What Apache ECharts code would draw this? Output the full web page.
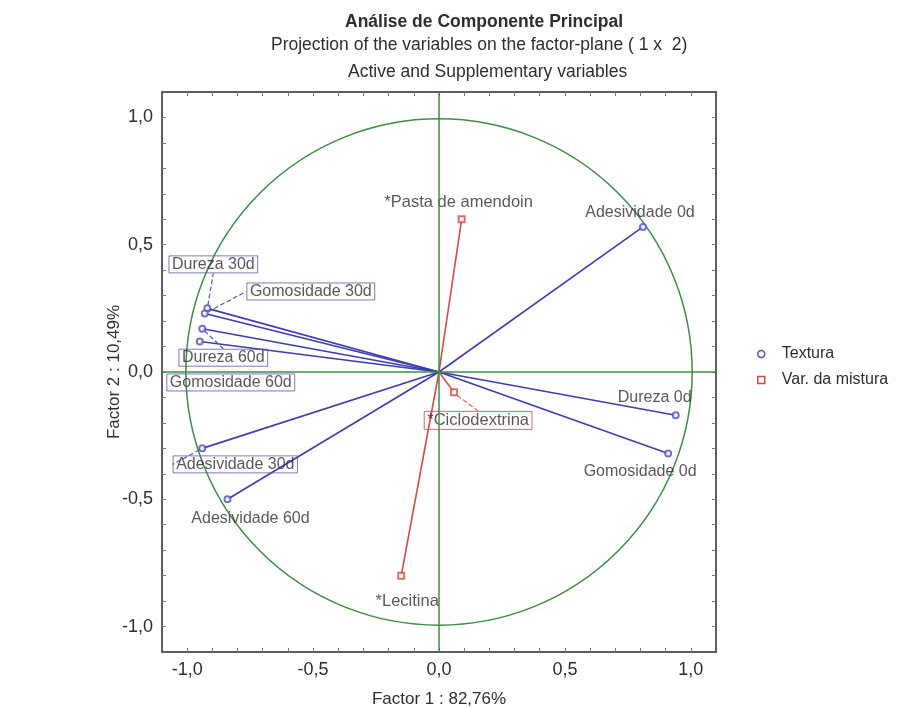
<!DOCTYPE html>
<html>
<head>
<meta charset="utf-8">
<script src="https://cdn.jsdelivr.net/npm/echarts@6/dist/echarts.min.js"></script>
<style>
  html, body { margin: 0; padding: 0; background: #fff; }
  #chart { width: 909px; height: 708px; }
</style>
</head>
<body>
<div id="chart"></div>
<script>
// active variables (Textura)
var texturaNames = ['Adesividade 0d', 'Dureza 0d', 'Gomosidade 0d', 'Dureza 30d', 'Gomosidade 30d',
  'Dureza 60d', 'Gomosidade 60d', 'Adesividade 30d', 'Adesividade 60d'];
var texturaX = [0.81, 0.94, 0.91, -0.92, -0.93, -0.94, -0.95, -0.94, -0.84];
var texturaY = [0.57, -0.17, -0.32, 0.25, 0.23, 0.17, 0.12, -0.30, -0.50];

// supplementary variables (Var. da mistura)
var misturaNames = ['*Pasta de amendoin', '*Ciclodextrina', '*Lecitina'];
var misturaX = [0.09, 0.06, -0.15];
var misturaY = [0.60, -0.08, -0.80];

var circleRadius = [1];
var tickLabels = [-1, -0.5, 0, 0.5, 1];
var tickValues = [-1, -0.9, -0.8, -0.7, -0.6, -0.5, -0.4, -0.3, -0.2, -0.1, 0,
  0.1, 0.2, 0.3, 0.4, 0.5, 0.6, 0.7, 0.8, 0.9, 1];

// label placement (pixel offset from the point), boxes and leader lines
var labelPlace = {
  'Adesividade 0d': { dx: -3, dy: -14 },
  'Dureza 0d': { dx: -21, dy: -18 },
  'Gomosidade 0d': { dx: -28, dy: 18 },
  'Dureza 30d': { dx: 6, dy: -44, box: true, lead: true },
  'Gomosidade 30d': { dx: 106, dy: -22, box: true, lead: true },
  'Dureza 60d': { dx: 21, dy: 29, box: true, lead: true },
  'Gomosidade 60d': { dx: 31, dy: 41, box: true },
  'Adesividade 30d': { dx: 33, dy: 16, box: true, lead: true },
  'Adesividade 60d': { dx: 23, dy: 19 },
  '*Pasta de amendoin': { dx: -3, dy: -17 },
  '*Ciclodextrina': { dx: 24, dy: 28, box: true, lead: true },
  '*Lecitina': { dx: 6, dy: 26 }
};

var font = 'Liberation Sans, Arial, sans-serif';
var blue = '#3d3db0';
var red = '#d24a4a';
var green = '#3f8c44';
var ink = '#2e2e2e';

function points(names, xs, ys, boxColor) {
  return names.map(function (n, i) {
    var p = labelPlace[n] || {};
    return {
      name: n,
      value: [xs[i], ys[i]],
      label: p.box ? { borderColor: boxColor, borderWidth: 1, padding: [1, 3, 0, 3] } : {},
      labelLine: { show: !!p.lead }
    };
  });
}

function vectorItem(color) {
  return function (params, api) {
    var o = api.coord([0, 0]);
    var p = api.coord([api.value(0), api.value(1)]);
    return {
      type: 'line',
      shape: { x1: o[0], y1: o[1], x2: p[0], y2: p[1] },
      style: { stroke: color, lineWidth: 1.6 }
    };
  };
}

function layoutFor(names) {
  return function (params) {
    var p = labelPlace[names[params.dataIndex]] || { dx: 0, dy: 0 };
    return { dx: p.dx, dy: p.dy };
  };
}

var fmt = function (v) { return v.toFixed(1).replace('.', ','); };

function axis(pos, withLabel, name, nameGap) {
  return {
    type: 'value', min: -1.1, max: 1.1, position: pos,
    axisLine: { onZero: false, lineStyle: { color: '#555', width: 1.5 } },
    axisTick: { inside: true, length: 4, customValues: tickValues, lineStyle: { color: '#777' } },
    axisLabel: {
      show: withLabel, customValues: tickLabels, formatter: fmt,
      fontSize: 18, color: ink, fontFamily: font, margin: 9
    },
    splitLine: { show: false },
    name: withLabel ? name : '',
    nameLocation: 'middle', nameGap: nameGap,
    nameTextStyle: { fontSize: 17, color: ink, fontFamily: font }
  };
}

var yMain = axis('left', true, 'Factor 2 : 10,49%', 39);
yMain.nameMoveOverlap = false;

var dom = document.getElementById('chart');
var myChart = echarts.init(dom, null, { renderer: 'canvas' });

var titleStyle = { fontSize: 17.5, fontWeight: 'normal', color: ink, fontFamily: font };
var labelText = { show: true, position: 'inside', formatter: '{b}', color: ink, fontFamily: font,
  textBorderWidth: 0, textShadowBlur: 0 };

var option = {
  animation: false,
  title: [
    { text: 'Análise de Componente Principal', left: 345, top: 13, padding: 0,
      textStyle: Object.assign({}, titleStyle, { fontWeight: 'bold' }) },
    { text: 'Projection of the variables on the factor-plane ( 1 x  2)', left: 271, top: 36, padding: 0,
      textStyle: titleStyle },
    { text: 'Active and Supplementary variables', left: 348, top: 63, padding: 0,
      textStyle: titleStyle }
  ],
  legend: {
    orient: 'vertical', left: 752, top: 341, itemGap: 10,
    itemWidth: 7, itemHeight: 7,
    textStyle: { fontSize: 16, color: ink, fontFamily: font, padding: [0, 0, 0, 12] },
    data: [
      { name: 'Textura', icon: 'circle', itemStyle: { color: '#fff', borderColor: '#5050c0', borderWidth: 1.5 } },
      { name: 'Var. da mistura', icon: 'path://M0,0L10,0L10,10L0,10Z', itemStyle: { color: '#fff', borderColor: red, borderWidth: 1.5 } }
    ]
  },
  grid: { left: 162, right: 193, top: 92, bottom: 56, outerBoundsMode: 'none',
    show: true, borderColor: '#555', borderWidth: 1.5 },
  xAxis: [axis('bottom', true, 'Factor 1 : 82,76%', 39), axis('top', false, '', 0)],
  yAxis: [yMain, axis('right', false, '', 0)],
  series: [
    {
      type: 'custom', name: 'circle', silent: true, z: 1,
      data: circleRadius.map(function (r) { return [0, 0, r]; }),
      renderItem: function (params, api) {
        var c = api.coord([api.value(0), api.value(1)]);
        var r = api.size([api.value(2), api.value(2)]);
        return {
          type: 'circle',
          shape: { cx: c[0], cy: c[1], r: (r[0] + r[1]) / 2 },
          style: { fill: 'none', stroke: green, lineWidth: 1.5 }
        };
      },
      markLine: {
        silent: true, symbol: 'none', label: { show: false },
        lineStyle: { color: green, type: 'solid', width: 1.5 },
        data: [{ xAxis: 0 }, { yAxis: 0 }]
      }
    },
    {
      type: 'custom', name: 'Textura', silent: true, z: 3,
      data: texturaX.map(function (x, i) { return [x, texturaY[i]]; }),
      renderItem: vectorItem(blue)
    },
    {
      type: 'custom', name: 'Var. da mistura', silent: true, z: 3,
      data: misturaX.map(function (x, i) { return [x, misturaY[i]]; }),
      renderItem: vectorItem(red)
    },
    {
      type: 'scatter', name: 'Textura', z: 4,
      symbol: 'emptyCircle', symbolSize: 6,
      itemStyle: { color: '#5050c0', borderWidth: 1.2 },
      label: Object.assign({ fontSize: 16 }, labelText),
      labelLine: { lineStyle: { color: '#5a5ab0', type: 'dashed', width: 1.2 } },
      labelLayout: layoutFor(texturaNames),
      data: points(texturaNames, texturaX, texturaY, '#5a5aa0')
    },
    {
      type: 'scatter', name: 'Var. da mistura', z: 4,
      symbol: 'emptyRect', symbolSize: 6,
      itemStyle: { color: red, borderWidth: 1.2 },
      label: Object.assign({ fontSize: 16.5 }, labelText),
      labelLine: { lineStyle: { color: '#d86060', type: 'dashed', width: 1.2 } },
      labelLayout: layoutFor(misturaNames),
      data: points(misturaNames, misturaX, misturaY, '#c04848')
    }
  ]
};

myChart.setOption(option);
window.addEventListener('resize', myChart.resize);
</script>
</body>
</html>
